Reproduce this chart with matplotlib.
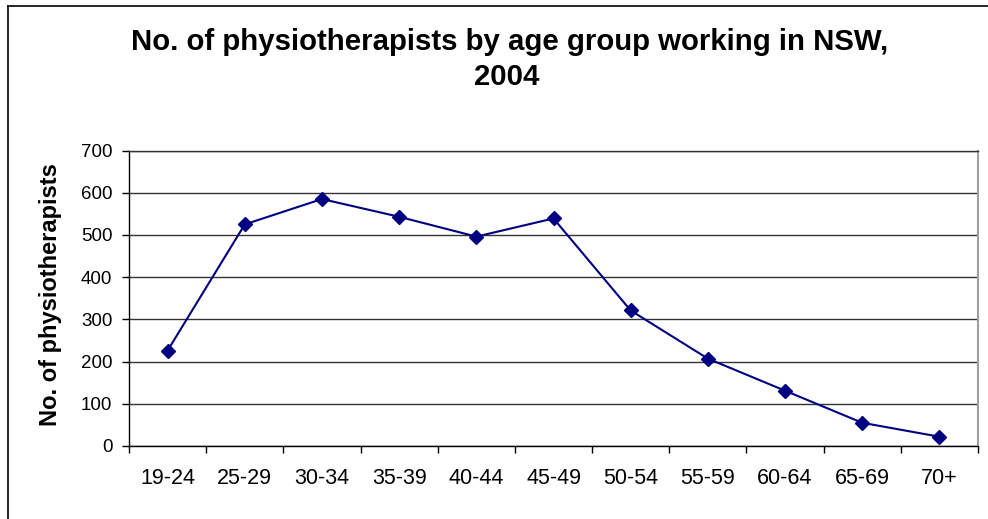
import matplotlib
matplotlib.use("Agg")
import matplotlib.pyplot as plt
from matplotlib.lines import Line2D

categories = ["19-24", "25-29", "30-34", "35-39", "40-44", "45-49",
              "50-54", "55-59", "60-64", "65-69", "70+"]
values = [226, 525, 585, 543, 496, 539, 321, 207, 131, 55, 22]
y_ticks = [0, 100, 200, 300, 400, 500, 600, 700]

plt.rcParams['font.family'] = ['Liberation Sans', 'DejaVu Sans']

fig = plt.figure(figsize=(9.88, 5.19), dpi=100)
ax = fig.add_axes([129/988, 1 - 446/519, (978-129)/988, (446-150.5)/519])

x = list(range(len(categories)))
ax.plot(x, values, color='#000080', linewidth=1.5, marker='D',
        markersize=7, markerfacecolor='#000080', markeredgecolor='#000080',
        zorder=3, clip_on=False)

ax.set_xlim(-0.5, len(categories) - 0.5)
ax.set_ylim(0, 700)
ax.set_yticks(y_ticks)
ax.set_yticklabels([str(v) for v in y_ticks], fontsize=13.5)
ax.set_xticks(x)
ax.set_xticklabels(categories, fontsize=15.5)
ax.set_xticks([i - 0.5 for i in range(len(categories) + 1)], minor=True)
ax.tick_params(axis='x', which='major', length=0, pad=16)
ax.tick_params(axis='x', which='minor', length=5, width=1, color='black', direction='out')
ax.tick_params(axis='y', which='major', length=5, width=1, color='black', direction='out', pad=7)

ax.yaxis.grid(True, color='#333333', linewidth=1)
ax.set_axisbelow(True)
for s in ['left', 'bottom']:
    ax.spines[s].set_color('black')
    ax.spines[s].set_linewidth(1)
ax.spines['right'].set_color('#A0A0A0')
ax.spines['right'].set_linewidth(1.5)
ax.spines['top'].set_color('#333333')
ax.spines['top'].set_linewidth(1)

ax.set_ylabel("No. of physiotherapists", fontsize=17, fontweight='bold')
ax.yaxis.set_label_coords((62 - 129) / 849, (446 - 294) / 296)

fig.text(510/988, 1 - 42/519, "No. of physiotherapists by age group working in NSW,",
         ha='center', va='center', fontsize=21.2, fontweight='bold')
fig.text(507/988, 1 - 77/519, "2004", ha='center', va='center',
         fontsize=21.2, fontweight='bold')

# outer chart border (left and top visible)
fig.add_artist(Line2D([8/988, 8/988], [0, 1 - 6/519], transform=fig.transFigure,
                      color='black', linewidth=1.2))
fig.add_artist(Line2D([8/988, 1], [1 - 6/519, 1 - 6/519], transform=fig.transFigure,
                      color='black', linewidth=1.2))

fig.savefig("out.png", dpi=100)
